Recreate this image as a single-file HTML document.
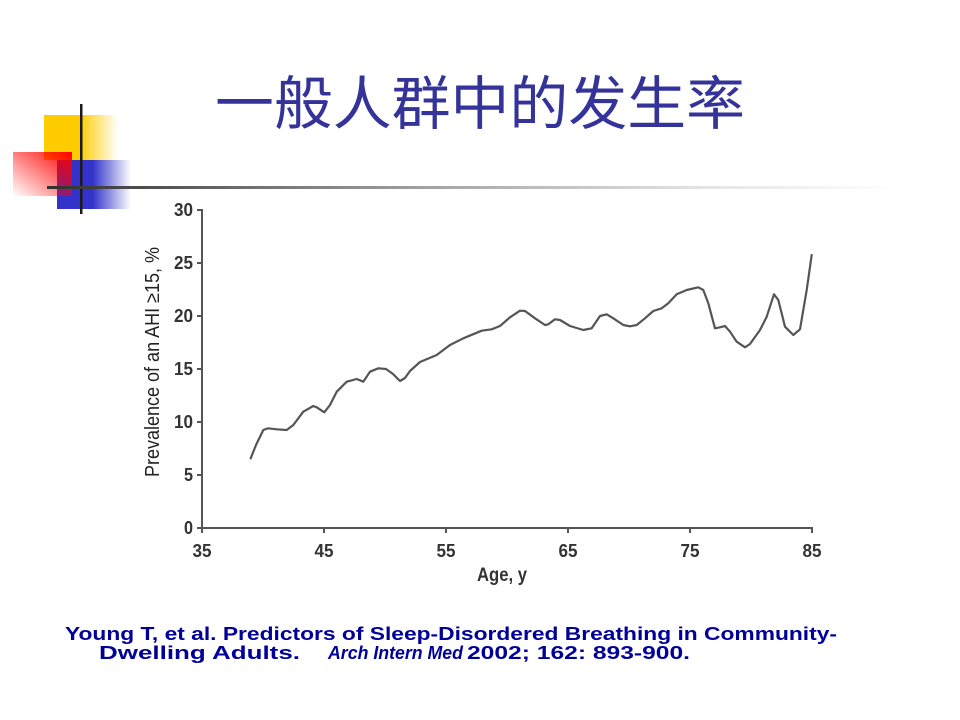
<!DOCTYPE html>
<html><head><meta charset="utf-8"><style>
html,body{margin:0;padding:0;background:#fff;}
svg{display:block;}
</style></head><body>
<svg width="960" height="720" viewBox="0 0 960 720" xmlns="http://www.w3.org/2000/svg">
<defs>
<linearGradient id="gy" x1="0" y1="0" x2="1" y2="0">
<stop offset="0" stop-color="#FFCC00"/><stop offset="0.48" stop-color="#FFCC00"/><stop offset="1" stop-color="#FFCC00" stop-opacity="0"/>
</linearGradient>
<linearGradient id="gb" x1="0" y1="0" x2="1" y2="0">
<stop offset="0" stop-color="#3333CC"/><stop offset="0.48" stop-color="#3333CC"/><stop offset="1" stop-color="#3333CC" stop-opacity="0"/>
</linearGradient>
<linearGradient id="gr" x1="1" y1="0" x2="0" y2="1">
<stop offset="0" stop-color="#FF0000"/><stop offset="1" stop-color="#FF0000" stop-opacity="0"/>
</linearGradient>
<linearGradient id="gl" gradientUnits="userSpaceOnUse" x1="47" y1="0" x2="900" y2="0">
<stop offset="0" stop-color="#303030"/><stop offset="0.24" stop-color="#707070"/><stop offset="0.47" stop-color="#a8a8a8"/><stop offset="0.77" stop-color="#e4e4e4"/><stop offset="1" stop-color="#ffffff"/>
</linearGradient>
</defs>
<rect x="0" y="0" width="960" height="720" fill="#fff"/>
<!-- decoration -->
<rect x="44" y="115" width="74" height="45" fill="url(#gy)"/>
<rect x="57" y="160" width="74" height="49" fill="url(#gb)"/>
<rect x="13" y="152" width="59" height="44" fill="url(#gr)"/>
<rect x="80" y="104" width="2.5" height="110" fill="#1a1a1a"/>
<rect x="47" y="186" width="913" height="3" fill="url(#gl)"/>

<!-- title -->
<text x="480" y="124" text-anchor="middle" font-family="'Liberation Sans','Noto Sans CJK SC',sans-serif" font-size="58" fill="#333399" textLength="530" lengthAdjust="spacingAndGlyphs">一般人群中的发生率</text>

<!-- axes -->
<g stroke="#555" stroke-width="2" fill="none">
<line x1="202" y1="209" x2="202" y2="529"/>
<line x1="201" y1="528" x2="812" y2="528"/>
<line x1="197" y1="210" x2="202" y2="210"/>
<line x1="197" y1="263" x2="202" y2="263"/>
<line x1="197" y1="316" x2="202" y2="316"/>
<line x1="197" y1="369" x2="202" y2="369"/>
<line x1="197" y1="422" x2="202" y2="422"/>
<line x1="197" y1="475" x2="202" y2="475"/>
<line x1="197" y1="528" x2="202" y2="528"/>
<line x1="202" y1="528" x2="202" y2="533"/>
<line x1="324" y1="528" x2="324" y2="533"/>
<line x1="446" y1="528" x2="446" y2="533"/>
<line x1="568" y1="528" x2="568" y2="533"/>
<line x1="690" y1="528" x2="690" y2="533"/>
<line x1="812" y1="527" x2="812" y2="533"/>
</g>
<g font-family="'Liberation Sans',sans-serif" font-weight="bold" font-size="18" fill="#333">
<text x="174" y="216" textLength="19" lengthAdjust="spacingAndGlyphs">30</text>
<text x="174" y="269" textLength="19" lengthAdjust="spacingAndGlyphs">25</text>
<text x="174" y="322" textLength="19" lengthAdjust="spacingAndGlyphs">20</text>
<text x="174" y="375" textLength="19" lengthAdjust="spacingAndGlyphs">15</text>
<text x="174" y="428" textLength="19" lengthAdjust="spacingAndGlyphs">10</text>
<text x="184" y="481" textLength="9" lengthAdjust="spacingAndGlyphs">5</text>
<text x="184" y="534" textLength="9" lengthAdjust="spacingAndGlyphs">0</text>
</g>
<g font-family="'Liberation Sans',sans-serif" font-weight="bold" font-size="18" fill="#333">
<text x="192.5" y="557" textLength="19" lengthAdjust="spacingAndGlyphs">35</text>
<text x="314.5" y="557" textLength="19" lengthAdjust="spacingAndGlyphs">45</text>
<text x="436.5" y="557" textLength="19" lengthAdjust="spacingAndGlyphs">55</text>
<text x="558.5" y="557" textLength="19" lengthAdjust="spacingAndGlyphs">65</text>
<text x="680.5" y="557" textLength="19" lengthAdjust="spacingAndGlyphs">75</text>
<text x="802.5" y="557" textLength="19" lengthAdjust="spacingAndGlyphs">85</text>
</g>
<text x="477" y="581" font-family="'Liberation Sans',sans-serif" font-weight="bold" font-size="19" fill="#333" textLength="50" lengthAdjust="spacingAndGlyphs">Age, y</text>
<text transform="translate(159,477) rotate(-90)" x="0" y="0" font-family="'Liberation Sans',sans-serif" font-size="20" fill="#222" textLength="230" lengthAdjust="spacingAndGlyphs">Prevalence of an AHI ≥15, %</text>

<!-- curve -->
<polyline fill="none" stroke="#555" stroke-width="2.2" stroke-linejoin="round" stroke-linecap="round" points="250.7,458.3 256,445 263.3,430 268,428.3 276.7,429.3 286.7,430 293.3,425 303.3,411.7 313.3,406 316.7,407.3 324.3,412.3 330,405 336.7,391.7 346.7,381.7 356.7,379 363.3,381.7 370,371.7 378.3,368.3 386,369 393,374 400,381 405,378 410,371 420,362 436.7,355 450,345 463.3,338.3 481.7,330.7 491.7,329.3 500,326 510,317.3 520,310.7 525,311 535,318.3 545,325 548.3,324.3 555,319.3 560,320 570,326 583.3,330 591.7,328.3 600,316 606.7,314.3 613.3,318.3 623.3,325 630,326.3 636.7,325 645,318.3 653.3,311 661.7,308.3 668.3,303.3 676.7,294.3 686.7,290 698.3,287.3 703.3,290 708.3,303.3 715,328.3 720,327.3 725,326 730,331.7 736.7,341.7 745,347.3 750,344 760,330 766.7,316.7 774,294.3 778.3,300 785,326.7 793.3,335 800,329.3 806.7,290 811.7,255"/>

<!-- footer -->
<g font-family="'Liberation Sans',sans-serif" font-weight="bold" font-size="18.5" fill="#000099">
<text x="65" y="640" textLength="772" lengthAdjust="spacingAndGlyphs">Young T, et al.  Predictors of Sleep-Disordered Breathing in Community-</text>
<text x="99" y="659" textLength="201" lengthAdjust="spacingAndGlyphs">Dwelling Adults.</text>
<text x="328" y="659" font-style="italic" textLength="135" lengthAdjust="spacingAndGlyphs">Arch Intern Med</text>
<text x="467" y="659" textLength="223" lengthAdjust="spacingAndGlyphs">2002; 162: 893-900.</text>
</g>
</svg>
</body></html>
